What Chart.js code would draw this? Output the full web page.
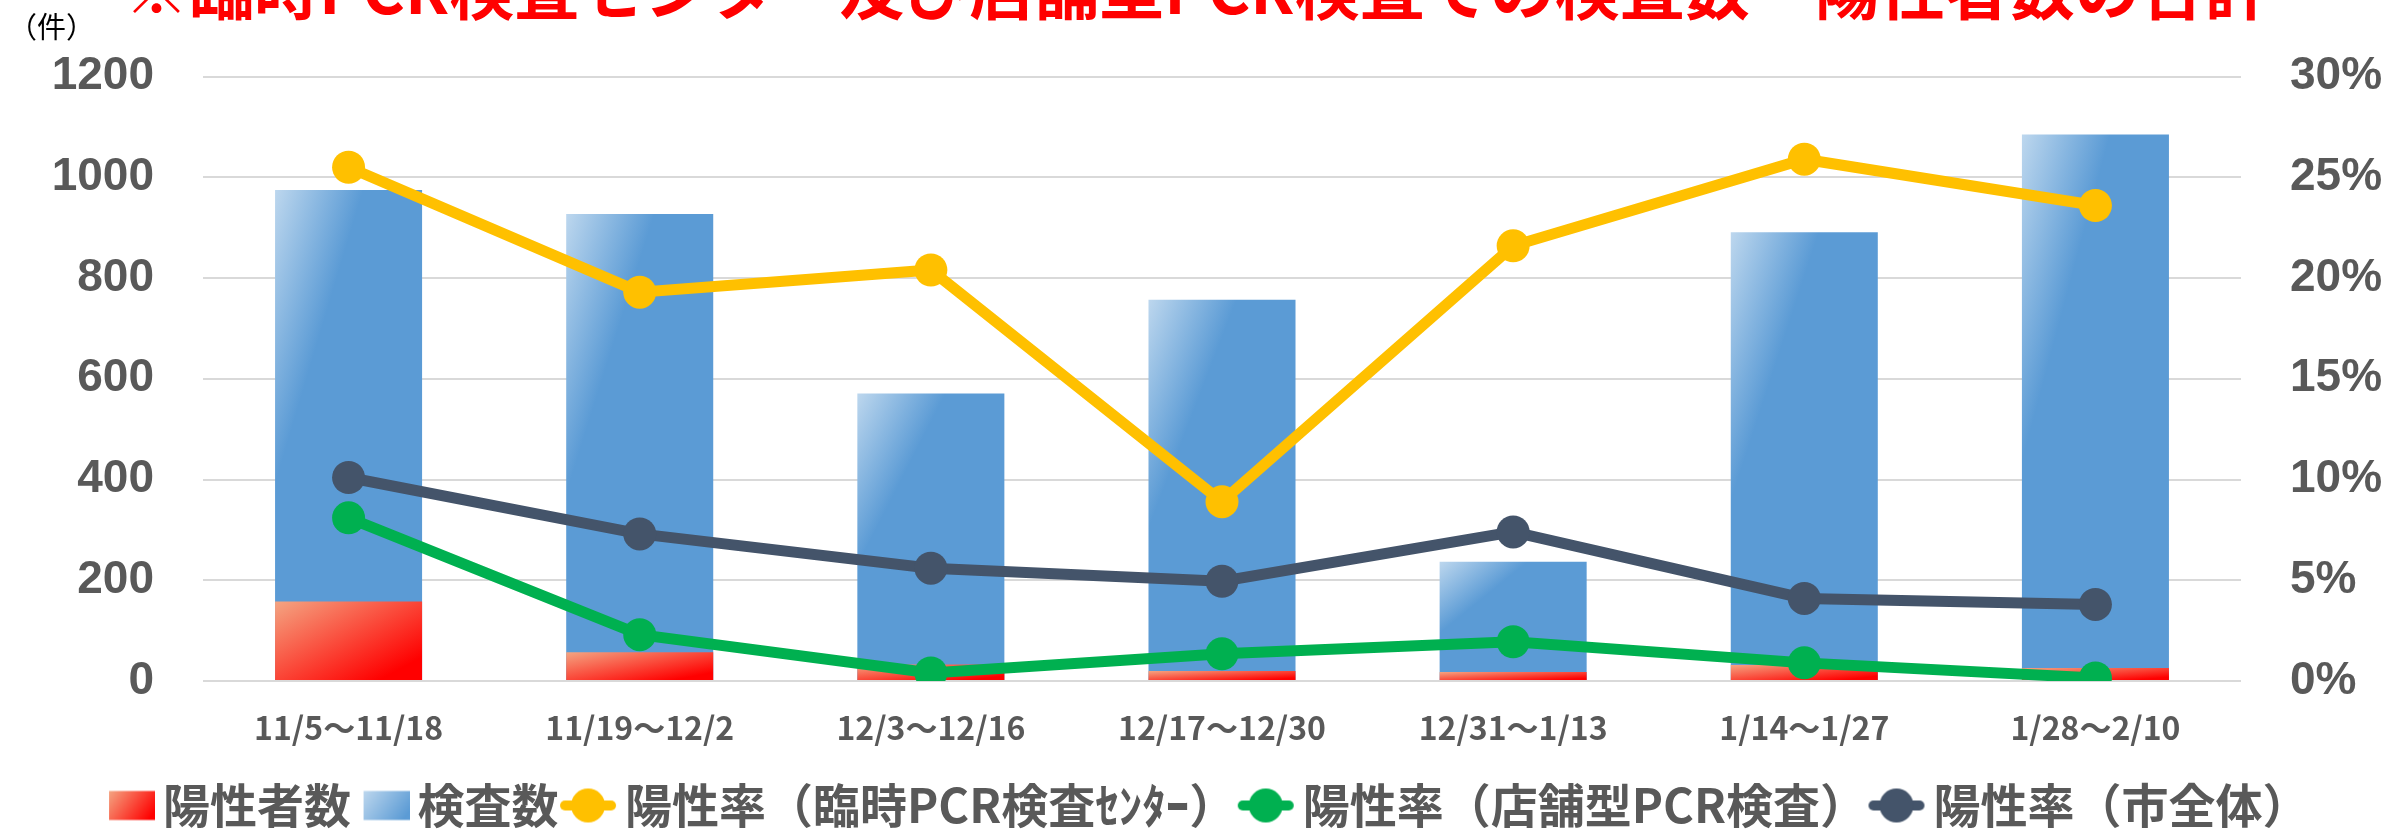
<!DOCTYPE html>
<html lang="ja">
<head>
<meta charset="utf-8">
<script src="https://cdn.jsdelivr.net/npm/chart.js@4.4.1/dist/chart.umd.min.js"></script>
<style>
    html, body { margin: 0; padding: 0; background: #fff; overflow: hidden; }
    #wrap { position: relative; width: 2407px; height: 831px; }
    #title {
        position: absolute; left: 124px; top: -46px;
        font: bold 65px "Noto Sans CJK JP"; line-height: 65px;
        color: #FF0000; white-space: nowrap;
    }
    #unit { position: absolute; left: 8px; top: 4px; font: 29px "Noto Sans CJK JP"; color: #000; }
</style>
</head>
<body>
<div id="wrap">
    <canvas id="pcrChart" width="2407" height="831"></canvas>
    <div id="title">※臨時PCR検査センター及び店舗型PCR検査での検査数・陽性者数の合計</div>
    <div id="unit">（件）</div>
</div>
<script>
// 集計期間
const periods = ['11/5～11/18', '11/19～12/2', '12/3～12/16', '12/17～12/30', '12/31～1/13', '1/14～1/27', '1/28～2/10'];

// 件数（左軸）
const positives = [158, 57, 33, 20, 18, 32, 26];
const tests = [975, 927, 571, 757, 237, 891, 1085];

// 陽性率 %（右軸）
const rateCenter = [25.5, 19.3, 20.4, 8.9, 21.6, 25.9, 23.6];
const rateStore = [8.1, 2.3, 0.4, 1.35, 1.95, 0.9, 0.15];
const rateCity = [10.1, 7.3, 5.6, 4.95, 7.4, 4.1, 3.8];

const countTicks = [0, 200, 400, 600, 800, 1000, 1200];
const rateTicks = [0, 5, 10, 15, 20, 25, 30];

const BAR_FRACTION = 0.505;
const GRAY = '#595959';

// Excel風の斜めグラデーション（棒ごとに計算）
function barGradient(c, light, dark, reach) {
    const chart = c.chart;
    if (!chart.chartArea || c.type !== 'data') return dark;
    const xs = chart.scales.x, ys = chart.scales.y;
    const w = xs.width / periods.length * BAR_FRACTION;
    const left = xs.getPixelForValue(c.dataIndex) - w / 2;
    const top = ys.getPixelForValue(c.raw);
    const h = Math.max(ys.getPixelForValue(0) - top, 1);
    const k = reach / (1 / (w * w) + 1 / (h * h));
    const g = chart.ctx.createLinearGradient(left, top, left + k / w, top + k / h);
    g.addColorStop(0, light);
    g.addColorStop(1, dark);
    return g;
}

// 凡例マーカー
const BOX_W = 42;
const MARK_W = BOX_W + 31;
function makeMarker(draw) {
    const cv = document.createElement('canvas');
    cv.width = MARK_W;
    cv.height = 38;
    draw(cv.getContext('2d'), cv.width, cv.height);
    return cv;
}
function boxMarker(light, dark) {
    return makeMarker((g, w, h) => {
        const x0 = w - 46, y0 = (h - 29) / 2;
        const grad = g.createLinearGradient(x0, y0, x0 + 40, y0 + 29);
        grad.addColorStop(0, light);
        grad.addColorStop(1, dark);
        g.fillStyle = grad;
        g.fillRect(x0, y0, 46, 29);
    });
}
function lineMarker(color) {
    return makeMarker((g, w, h) => {
        g.strokeStyle = color;
        g.lineWidth = 10;
        g.lineCap = 'round';
        g.beginPath();
        g.moveTo(w - 52, h / 2);
        g.lineTo(w - 6, h / 2);
        g.stroke();
        g.fillStyle = color;
        g.beginPath();
        g.arc(w - 29, h / 2, 17, 0, Math.PI * 2);
        g.fill();
    });
}
const markers = [
    boxMarker('#F4A582', '#FF0000'),
    boxMarker('#BDD7EE', '#5B9BD5'),
    lineMarker('#FFC000'),
    lineMarker('#00B050'),
    lineMarker('#44546A')
];

function lineSet(label, data, color) {
    return {
        type: 'line',
        label: label,
        data: data,
        yAxisID: 'y1',
        borderColor: color,
        backgroundColor: color,
        borderWidth: 11,
        pointRadius: 16.5,
        pointHoverRadius: 16.5,
        pointBorderWidth: 0,
        tension: 0,
        order: 0
    };
}

const ctx = document.getElementById('pcrChart');
new Chart(ctx.getContext('2d'), {
    type: 'bar',
    data: {
        labels: periods,
        datasets: [
            {
                label: '陽性者数',
                data: positives,
                backgroundColor: (c) => barGradient(c, '#F4A582', '#FF0000', 1.7),
                borderWidth: 0,
                barPercentage: BAR_FRACTION,
                categoryPercentage: 1,
                order: 1
            },
            {
                label: '検査数',
                data: tests,
                backgroundColor: (c) => barGradient(c, '#BDD7EE', '#5B9BD5', 0.6),
                borderWidth: 0,
                barPercentage: BAR_FRACTION,
                categoryPercentage: 1,
                order: 2
            },
            lineSet('陽性率（臨時PCR検査ｾﾝﾀｰ）', rateCenter, '#FFC000'),
            lineSet('陽性率（店舗型PCR検査）', rateStore, '#00B050'),
            lineSet('陽性率（市全体）', rateCity, '#44546A')
        ]
    },
    options: {
        responsive: false,
        animation: false,
        layout: { padding: { left: 0, right: 0, top: 74, bottom: -8 } },
        plugins: {
            title: { display: false },
            tooltip: { enabled: false },
            legend: {
                position: 'bottom',
                labels: {
                    usePointStyle: true,
                    pointStyleWidth: BOX_W,
                    padding: 1,
                    color: GRAY,
                    font: { family: 'Noto Sans CJK JP', size: 47, weight: 'bold' },
                    sort: (a, b) => a.datasetIndex - b.datasetIndex,
                    generateLabels: (chart) => {
                        const items = Chart.defaults.plugins.legend.labels.generateLabels(chart);
                        items.forEach((it) => { it.pointStyle = markers[it.datasetIndex]; });
                        return items;
                    }
                }
            }
        },
        scales: {
            x: {
                stacked: true,
                afterFit: (axis) => { axis.height = 100; },
                grid: { display: false, drawTicks: false },
                border: { display: false },
                ticks: {
                    color: GRAY,
                    padding: 28,
                    maxRotation: 0,
                    font: { family: 'Noto Sans CJK JP', size: 32, weight: 'bold' }
                }
            },
            y: {
                min: countTicks[0],
                max: countTicks[countTicks.length - 1],
                afterBuildTicks: (axis) => { axis.ticks = countTicks.map((v) => ({ value: v })); },
                afterFit: (axis) => { axis.width = 203; },
                grid: { color: '#D9D9D9', lineWidth: 2, drawTicks: false },
                border: { display: false },
                ticks: {
                    color: GRAY,
                    padding: 49,
                    callback: (v) => String(v),
                    font: { family: 'Liberation Sans', size: 46, weight: 'bold' }
                }
            },
            y1: {
                position: 'right',
                min: rateTicks[0],
                max: rateTicks[rateTicks.length - 1],
                afterBuildTicks: (axis) => { axis.ticks = rateTicks.map((v) => ({ value: v })); },
                afterFit: (axis) => { axis.width = 166; },
                grid: { display: false, drawTicks: false },
                border: { display: false },
                ticks: {
                    color: GRAY,
                    padding: 49,
                    callback: (v) => v + '%',
                    font: { family: 'Liberation Sans', size: 46, weight: 'bold' }
                }
            }
        }
    }
});
</script>
</body>
</html>
